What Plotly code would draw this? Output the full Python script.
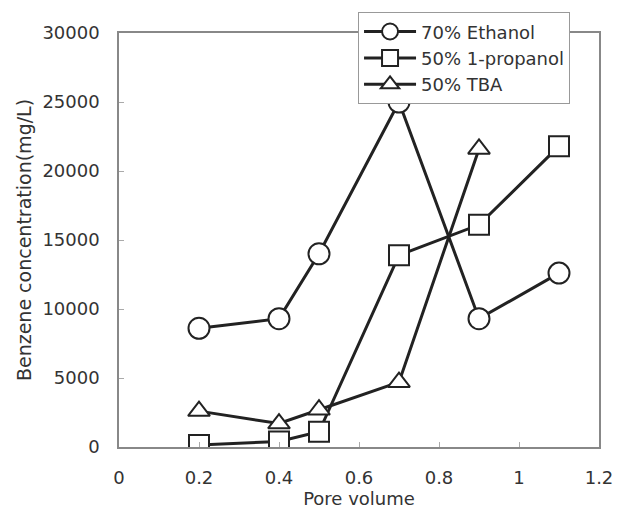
import plotly.graph_objects as go

x_eth = [0.2, 0.4, 0.5, 0.7, 0.9, 1.1]
y_eth = [8600, 9300, 14000, 25000, 9300, 12600]
x_prop = [0.2, 0.4, 0.5, 0.7, 0.9, 1.1]
y_prop = [150, 400, 1100, 13900, 16100, 21800]
x_tba = [0.2, 0.4, 0.5, 0.7, 0.9]
y_tba = [2600, 1700, 2700, 4700, 21600]

names = ["70% Ethanol", "50% 1-propanol", "50% TBA"]
symbols = ["circle", "square", "triangle-up"]
sizes = [21, 20, 19]

FONT = "DejaVu Sans, Arial, sans-serif"
fig = go.Figure()
for xs, ys, nm, sym, sz in zip([x_eth, x_prop, x_tba], [y_eth, y_prop, y_tba], names, symbols, sizes):
    fig.add_trace(go.Scatter(
        x=xs, y=ys, name=nm, mode="lines+markers",
        line=dict(color="#222222", width=3),
        marker=dict(symbol=sym, size=sz, color="white",
                    line=dict(color="#222222", width=2)),
    ))

axis_common = dict(showgrid=False, zeroline=False, showline=True, linecolor="#888888",
                   linewidth=1.5, mirror=True, ticks="inside", tickcolor="#aaaaaa",
                   ticklen=5, automargin=False,
                   tickfont=dict(size=18, color="#333333", family=FONT))
fig.update_layout(
    width=624, height=512,
    margin=dict(l=119, r=25, t=25, b=65),
    paper_bgcolor="white", plot_bgcolor="white",
    font=dict(family=FONT, color="#333333"),
    xaxis=dict(range=[0, 1.2], tickvals=[0, 0.2, 0.4, 0.6, 0.8, 1, 1.2],
               ticktext=["0", "0.2", "0.4", "0.6", "0.8", "1", "1.2"],
               ticklabelstandoff=14,
               title=dict(text="Pore volume", font=dict(size=18), standoff=4), **axis_common),
    yaxis=dict(range=[0, 30000], tickvals=[0, 5000, 10000, 15000, 20000, 25000, 30000],
               ticktext=["0", "5000", "10000", "15000", "20000", "25000", "30000"],
               ticklabelstandoff=14,
               title=dict(text="Benzene concentration(mg/L)", font=dict(size=19), standoff=6),
               **axis_common),
    legend=dict(x=0.498, y=1.05, xanchor="left", yanchor="top",
                bordercolor="#999999", borderwidth=1, bgcolor="white",
                font=dict(size=18, color="#333333", family=FONT),
                itemwidth=52, tracegroupgap=0),
    showlegend=True,
)
fig.write_html("out.html")
